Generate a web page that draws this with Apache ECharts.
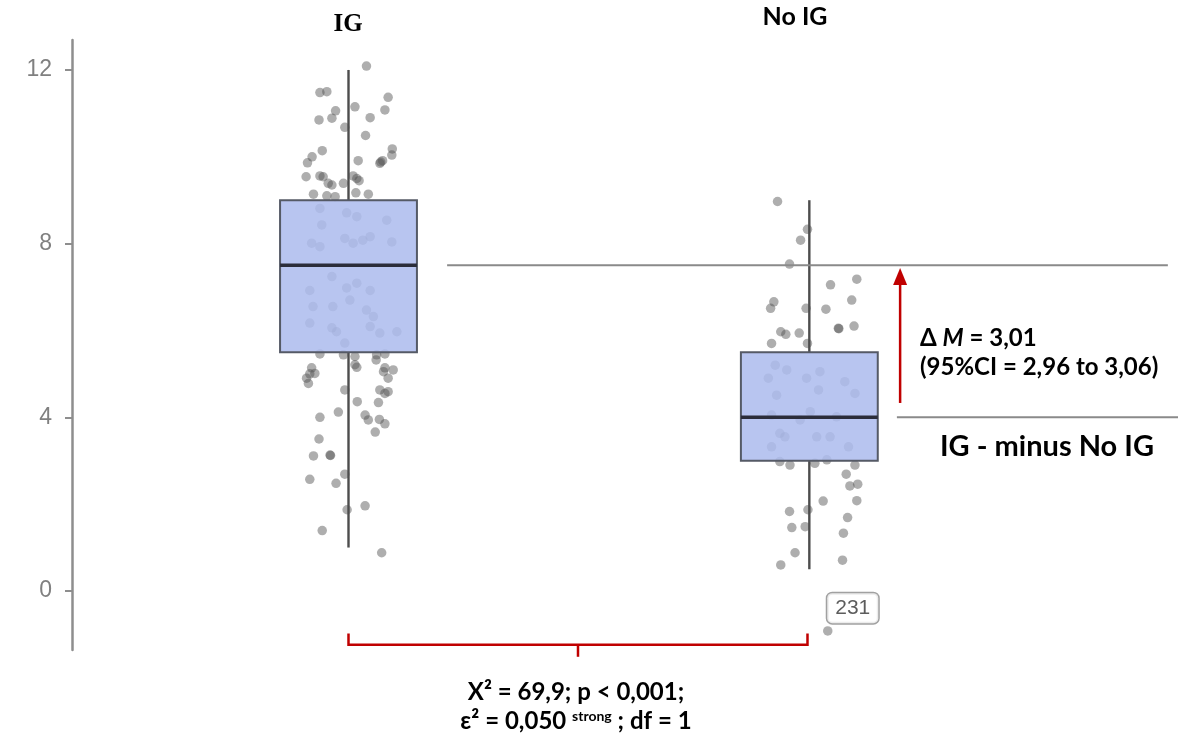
<!DOCTYPE html>
<html>
<head>
<meta charset="utf-8">
<script src="https://cdn.jsdelivr.net/npm/echarts@6/dist/echarts.min.js"></script>
<style>html,body{margin:0;padding:0;background:#fff}#c{width:1178px;height:736px}</style>
</head>
<body>
<div id="c"></div>
<script>
// ---- data ----
const categories = ['IG', 'No IG'];
const groupX = [1, 2];
const boxLow = [1.0, 0.5];
const boxQ1 = [5.5, 3.0];
const boxMedian = [7.5, 4.0];
const boxQ3 = [9.0, 5.5];
const boxHigh = [12.0, 9.0];
const yTicks = [0, 4, 8, 12];

const pointsIG = [
  [1.039,12.09],[0.938,11.48],[0.953,11.50],[1.086,11.37],[1.079,11.08],[0.972,11.06],[0.964,10.89],
  [0.936,10.85],[1.014,11.15],[1.047,10.90],[0.992,10.68],[1.037,10.49],[0.943,10.14],[0.921,10.00],
  [0.911,9.86],[1.095,10.18],[1.094,10.04],[1.021,9.91],[1.068,9.85],[1.074,9.91],[1.070,9.88],
  [0.908,9.54],[0.938,9.56],[0.945,9.54],[0.964,9.35],[0.956,9.39],[0.989,9.39],[1.010,9.56],
  [1.018,9.50],[1.023,9.45],[0.924,9.14],[0.953,9.10],[0.971,9.08],[1.016,9.17],[1.043,9.14],
  [0.938,8.81],[0.996,8.71],[1.018,8.62],[1.083,8.54],[0.942,8.43],[0.920,8.01],[0.938,7.93],
  [0.992,8.12],[1.010,8.01],[1.031,8.08],[1.047,8.16],[1.094,8.04],[0.964,7.24],[0.996,6.98],
  [1.018,7.09],[1.047,6.92],[0.916,6.92],[0.923,6.55],[0.966,6.55],[1.003,6.70],[1.039,6.47],
  [1.054,6.32],[0.916,6.17],[0.964,6.06],[0.974,5.97],[1.047,6.09],[1.068,5.94],[1.105,5.97],
  [0.992,5.71],
  [0.938,5.46],[0.989,5.44],[1.014,5.40],[1.061,5.44],[1.079,5.46],[0.920,5.14],[1.014,5.21],
  [1.079,5.14],[1.018,5.15],[1.060,5.32],[0.916,5.00],[0.927,5.01],[0.909,4.90],[0.913,4.78],
  [1.076,5.05],[1.097,5.09],[1.086,4.90],[0.992,4.63],[1.068,4.63],[1.079,4.55],[1.086,4.59],
  [1.019,4.36],[1.065,4.34],[0.938,4.00],[0.978,4.12],[1.036,4.05],[1.043,3.94],[1.067,3.95],
  [1.079,3.85],[1.058,3.66],[0.936,3.50],[0.924,3.11],[0.960,3.13],[0.961,3.12],[0.992,2.69],
  [0.916,2.57],[0.973,2.48],[0.997,1.87],[1.036,1.96],[0.943,1.39],[1.072,0.88]
];
const pointsNoIG = [
  [1.931,8.97],[1.996,8.33],[1.981,8.08],[1.957,7.53],[2.103,7.18],[2.046,7.05],[2.092,6.70],
  [1.923,6.66],[1.916,6.51],[1.993,6.51],[2.036,6.49],[1.938,5.97],[1.949,5.91],[1.978,5.94],
  [2.063,6.05],[2.064,6.04],[2.097,6.10],[1.918,5.70],[1.996,5.70],
  [1.926,5.20],[1.951,5.09],[1.911,4.90],[1.994,4.90],[2.020,4.63],[1.929,4.51],[2.023,5.05],
  [2.077,4.82],[2.099,4.55],[1.918,4.05],[1.980,3.94],[2.002,4.13],[2.059,4.01],[1.936,3.63],
  [1.947,3.55],[2.016,3.55],[2.045,3.55],[2.085,3.32],[1.918,3.32],
  [1.936,2.98],[1.958,2.90],[2.012,2.94],[2.038,3.02],[2.099,2.90],[2.080,2.69],[2.088,2.42],
  [2.105,2.46],[2.030,2.07],[2.103,2.08],[1.957,1.83],[1.997,1.87],[1.962,1.46],[1.991,1.48],
  [2.083,1.69],[2.074,1.33],[1.969,0.88],[1.938,0.60],[2.072,0.71]
];
const outlierNoIG = [[2.040, -0.92]];
const outlierIds = ['231'];

// ---- build ----
const boxData = groupX.map((x, i) => [x, boxLow[i], boxQ1[i], boxMedian[i], boxQ3[i], boxHigh[i]]);
const chart = echarts.init(document.getElementById('c'));
const boxWidth = 0.297;
const textFont = 'Lato, "Open Sans", sans-serif';
const pointColor = 'rgba(80,80,80,0.58)';

const option = {
  animation: false,
  backgroundColor: '#ffffff',
  grid: { left: 72, right: 0, top: 40, bottom: 86, containLabel: false },
  xAxis: { type: 'value', min: 0.4, max: 2.8, show: false },
  yAxis: {
    type: 'value', min: -1.36, max: 12.69,
    splitLine: { show: false },
    axisLine: { show: true, lineStyle: { color: '#8e8e8e', width: 2.5 } },
    axisTick: { show: true, length: 7, customValues: yTicks, lineStyle: { color: '#8e8e8e', width: 2 } },
    axisLabel: { customValues: yTicks, color: '#808080', fontSize: 23, fontFamily: '"Liberation Sans", Arial, sans-serif', margin: 20 }
  },
  series: [
    { type: 'scatter', z: 1, symbolSize: 9.5, data: pointsIG, itemStyle: { color: pointColor } },
    { type: 'scatter', z: 1, symbolSize: 9.5, data: pointsNoIG, itemStyle: { color: pointColor } },
    {
      type: 'scatter', z: 1, symbolSize: 9.5, data: outlierNoIG,
      itemStyle: { color: pointColor },
      label: {
        show: true, position: 'top', distance: 3, offset: [25, 0],
        formatter: p => outlierIds[p.dataIndex],
        color: '#333', fontSize: 21, fontFamily: '"Liberation Sans", Arial, sans-serif',
        backgroundColor: '#fff', borderColor: '#8a8a8a', borderWidth: 1.5, borderRadius: 5,
        padding: [5, 8, 4, 8]
      }
    },
    {
      type: 'custom', z: 3, data: boxData, clip: false,
      renderItem: function (params, api) {
        const x = api.value(0);
        const pLow = api.coord([x, api.value(1)]);
        const pQ1 = api.coord([x, api.value(2)]);
        const pMed = api.coord([x, api.value(3)]);
        const pQ3 = api.coord([x, api.value(4)]);
        const pHigh = api.coord([x, api.value(5)]);
        const hw = api.size([boxWidth, 0])[0] / 2;
        const lineStyle = { stroke: '#4d4d4d', lineWidth: 2.4, fill: null };
        return {
          type: 'group',
          children: [
            { type: 'line', shape: { x1: pQ3[0], y1: pHigh[1], x2: pQ3[0], y2: pQ3[1] }, style: lineStyle },
            { type: 'line', shape: { x1: pQ1[0], y1: pQ1[1], x2: pQ1[0], y2: pLow[1] }, style: lineStyle },
            { type: 'rect', shape: { x: pQ3[0] - hw, y: pQ3[1], width: hw * 2, height: pQ1[1] - pQ3[1] },
              style: { fill: 'rgba(172,187,237,0.86)', stroke: '#555a66', lineWidth: 2 } },
            { type: 'line', shape: { x1: pMed[0] - hw, y1: pMed[1], x2: pMed[0] + hw, y2: pMed[1] },
              style: { stroke: '#2b2d3a', lineWidth: 3.5 } }
          ]
        };
      }
    },
    {
      type: 'custom', z: 4, data: [[1.5, 5]], clip: false, silent: true,
      renderItem: function (params, api) {
        const grey = { stroke: '#8a8a8a', lineWidth: 2 };
        const red = '#c00000';
        const l1a = api.coord([1.214, boxMedian[0]]), l1b = api.coord([2.778, boxMedian[0]]);
        const l2a = api.coord([2.19, boxMedian[1]]), l2b = api.coord([2.8, boxMedian[1]]);
        const aBot = api.coord([2.197, 4.33]), aTop = api.coord([2.197, 7.44]);
        const bL = api.coord([groupX[0], -1.24]), bR = api.coord([1.996, -1.24]);
        const bLt = api.coord([groupX[0], -0.98]);
        const midX = (bL[0] + bR[0]) / 2;
        return {
          type: 'group',
          children: [
            { type: 'line', shape: { x1: l1a[0], y1: l1a[1], x2: l1b[0], y2: l1b[1] }, style: grey },
            { type: 'line', shape: { x1: l2a[0], y1: l2a[1], x2: l2b[0], y2: l2b[1] }, style: grey },
            { type: 'line', shape: { x1: aBot[0], y1: aBot[1], x2: aTop[0], y2: aTop[1] + 14 }, style: { stroke: red, lineWidth: 2.5 } },
            { type: 'polygon', shape: { points: [[aTop[0], aTop[1]], [aTop[0] - 7, aTop[1] + 17], [aTop[0] + 7, aTop[1] + 17]] }, style: { fill: red } },
            { type: 'polyline', shape: { points: [[bL[0], bLt[1]], [bL[0], bL[1]], [bR[0], bR[1]], [bR[0], bLt[1]]] },
              style: { stroke: red, lineWidth: 2.5, fill: null } },
            { type: 'line', shape: { x1: midX, y1: bL[1], x2: midX, y2: bL[1] + 12 }, style: { stroke: red, lineWidth: 2.5 } }
          ]
        };
      }
    }
  ],
  graphic: [
    { type: 'text', x: 348, y: 25, style: { text: categories[0], font: 'bold 25px "Liberation Serif", serif', fill: '#000', textAlign: 'center', textVerticalAlign: 'middle' } },
    { type: 'text', x: 795, y: 17, style: { text: categories[1], font: 'bold 25px ' + textFont, fill: '#000', textAlign: 'center', textVerticalAlign: 'middle' } },
    { type: 'text', x: 920, y: 338, style: {
        text: '{b|Δ }{i|M}{b| = 3,01}', textVerticalAlign: 'middle',
        rich: { b: { font: 'bold 24px ' + textFont, fill: '#000' }, i: { font: 'italic bold 24px ' + textFont, fill: '#000' } } } },
    { type: 'text', x: 920, y: 367, style: { text: '(95%CI = 2,96 to 3,06)', font: 'bold 24px ' + textFont, fill: '#000', textVerticalAlign: 'middle' } },
    { type: 'text', x: 940, y: 447, style: { text: 'IG - minus No IG', font: 'bold 29px ' + textFont, fill: '#000', textVerticalAlign: 'middle' } },
    { type: 'text', x: 576, y: 692, style: { text: 'X² = 69,9; p < 0,001;', font: 'bold 24px ' + textFont, fill: '#000', textAlign: 'center', textVerticalAlign: 'middle' } },
    { type: 'text', x: 576, y: 721, style: {
        text: '{b|ε² = 0,050 }{s|strong}{b| ; df = 1}', textAlign: 'center', textVerticalAlign: 'middle',
        rich: { b: { font: 'bold 24px ' + textFont, fill: '#000', verticalAlign: 'bottom' },
                s: { font: 'bold 14px ' + textFont, fill: '#000', verticalAlign: 'top', padding: [0, 0, 10, 0] } } } }
  ]
};
chart.setOption(option);
</script>
</body>
</html>
